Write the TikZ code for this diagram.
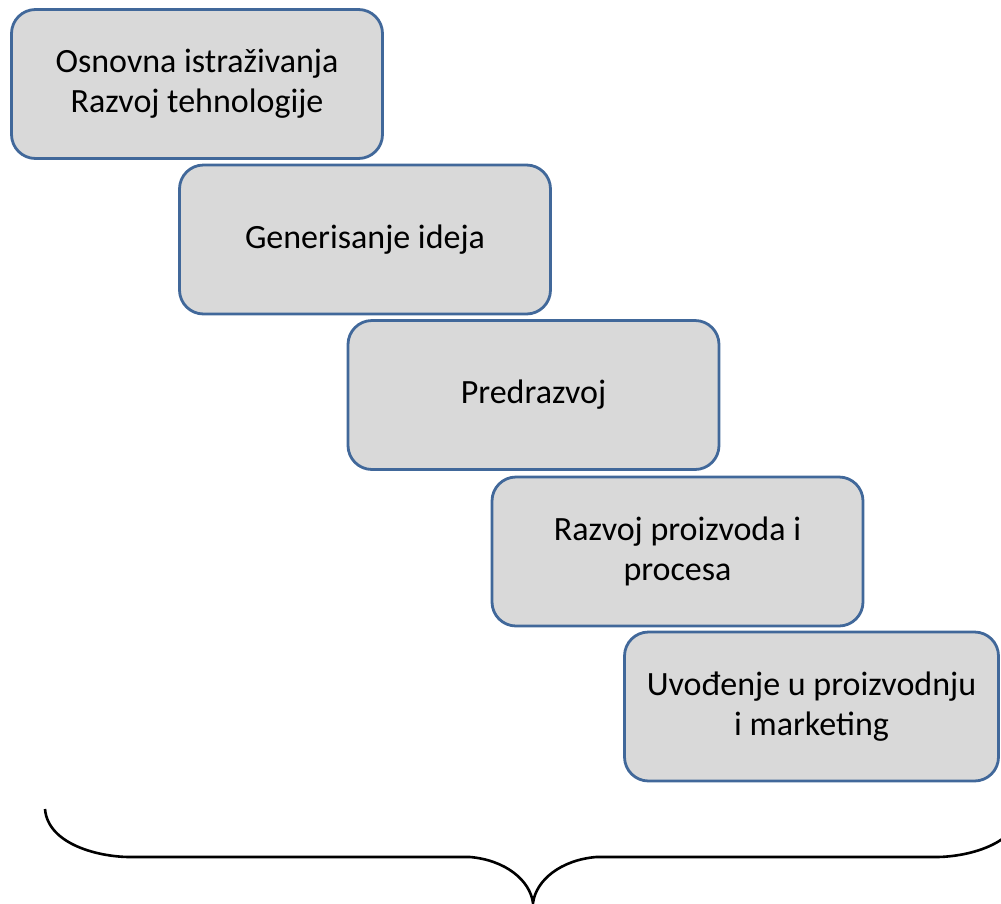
\documentclass[tikz,border=0pt]{standalone}
\usepackage{fontspec}
\setmainfont{Carlito}
\definecolor{boxfill}{HTML}{D9D9D9}
\definecolor{boxline}{HTML}{41689A}
\begin{document}
\begin{tikzpicture}[x=1pt,y=-1pt,
  stage/.style={draw=boxline, fill=boxfill, line width=2.8pt, rounded corners=24pt,
    minimum width=371pt, minimum height=149pt, align=center, font=\fontsize{34}{40}\selectfont, inner sep=0pt}]
\useasboundingbox (0,0) rectangle (1001,903);
\clip (0,0) rectangle (1001,903);
\node[stage] (s1) at (197,84) {Osnovna istraživanja\\Razvoj tehnologije};
\node[stage] (s2) at (365,239.5) {Generisanje ideja};
\node[stage] (s3) at (533.5,395) {Predrazvoj};
\node[stage] (s4) at (677.5,551.5) {Razvoj proizvoda i\\procesa};
\node[stage, minimum width=374pt] (s5) at (811.5,706.5) {Uvođenje u proizvodnju\\i marketing};
\draw[line width=2.6pt] (45,809) .. controls (48,845) and (100,857) .. (130,857) -- (470,857)
  .. controls (505,860) and (530,880) .. (533,903)
  .. controls (536,880) and (561,860) .. (596,857) -- (936,857)
  .. controls (966,857) and (1018,845) .. (1021,809);
\end{tikzpicture}
\end{document}
